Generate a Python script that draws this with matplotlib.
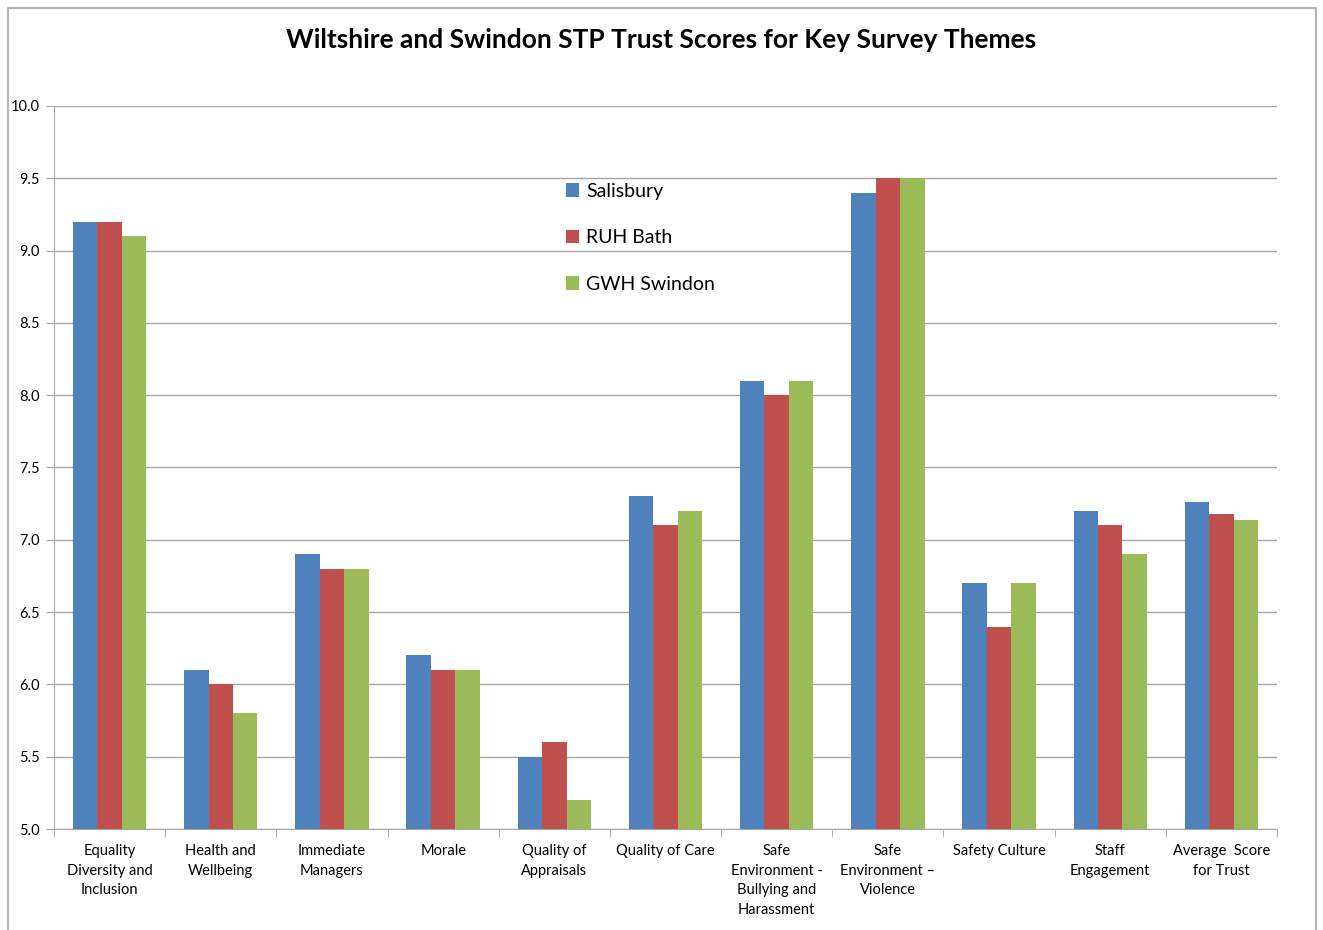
import matplotlib.pyplot as plt
import numpy as np
from matplotlib.patches import Rectangle

plt.rcParams['font.family'] = ['Lato', 'DejaVu Sans']

categories = [
    "Equality\nDiversity and\nInclusion",
    "Health and\nWellbeing",
    "Immediate\nManagers",
    "Morale",
    "Quality of\nAppraisals",
    "Quality of Care",
    "Safe\nEnvironment -\nBullying and\nHarassment",
    "Safe\nEnvironment \u2013\nViolence",
    "Safety Culture",
    "Staff\nEngagement",
    "Average  Score\nfor Trust",
]
salisbury = [9.2, 6.1, 6.9, 6.2, 5.5, 7.3, 8.1, 9.4, 6.7, 7.2, 7.26]
ruh_bath = [9.2, 6.0, 6.8, 6.1, 5.6, 7.1, 8.0, 9.5, 6.4, 7.1, 7.18]
gwh_swindon = [9.1, 5.8, 6.8, 6.1, 5.2, 7.2, 8.1, 9.5, 6.7, 6.9, 7.14]

series = [("Salisbury", salisbury, "#4F81BD"),
          ("RUH Bath", ruh_bath, "#C0504D"),
          ("GWH Swindon", gwh_swindon, "#9BBB59")]

fig = plt.figure(figsize=(13.23, 9.3), dpi=100)
ax = fig.add_axes([54 / 1323, 1 - 829 / 930, 1223 / 1323, 723 / 930])

x = np.arange(len(categories))
w = 0.22
for i, (name, vals, col) in enumerate(series):
    ax.bar(x + (i - 1) * w, vals, width=w, color=col, label=name, zorder=3)

ax.set_ylim(5.0, 10.0)
ax.set_xlim(-0.5, len(categories) - 0.5)
ax.set_yticks(np.arange(5.0, 10.01, 0.5))
ax.set_yticklabels([f"{v:.1f}" for v in np.arange(5.0, 10.01, 0.5)], fontsize=10.5)
ax.yaxis.grid(True, color="#A6A6A6", linewidth=1, zorder=0)
ax.tick_params(axis="y", length=6, color="#A6A6A6", pad=4)

ax.set_xticks(x)
ax.set_xticklabels(categories, fontsize=10.5, linespacing=1.5)
ax.tick_params(axis="x", which="major", length=0, pad=11)
ax.set_xticks(np.arange(-0.5, len(categories), 1), minor=True)
ax.tick_params(axis="x", which="minor", length=6, color="#A6A6A6")

for s in ["top", "right"]:
    ax.spines[s].set_visible(False)
for s in ["left", "bottom"]:
    ax.spines[s].set_color("#A6A6A6")

fig.text(0.5, 1 - 40 / 930, "Wiltshire and Swindon STP Trust Scores for Key Survey Themes",
         ha="center", va="center", fontsize=19, fontweight="bold")

ax.legend(loc="upper left", bbox_to_anchor=(502 / 1223, (829 - 173) / 723), frameon=False,
          fontsize=14, labelspacing=1.52, handlelength=0.7, handleheight=0.7,
          handletextpad=0.35, borderpad=0)

fig.patches.append(Rectangle((8 / 1323, -0.01), 1308 / 1323, 1 - 8 / 930 + 0.01,
                             transform=fig.transFigure, fill=False,
                             edgecolor="#A6A6A6", linewidth=1.2))

plt.savefig("out.png", dpi=100)
